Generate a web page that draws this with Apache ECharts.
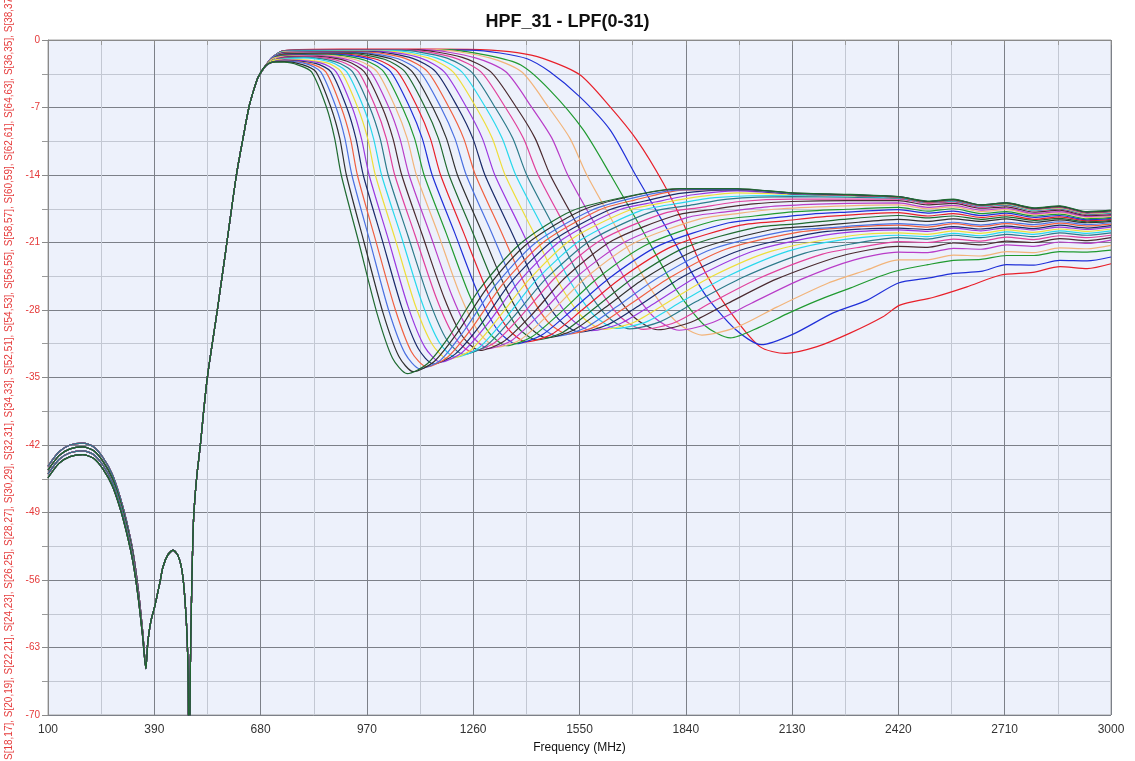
<!DOCTYPE html>
<html><head><meta charset="utf-8">
<script src="https://cdn.jsdelivr.net/npm/echarts@6/dist/echarts.min.js"></script>
<style>html,body{margin:0;padding:0;background:#fff}#c{width:1135px;height:761px}</style>
</head><body><div id="c"></div>
<script>
const TITLE = 'HPF_31 - LPF(0-31)';
const X_NAME = 'Frequency (MHz)';
const Y_NAME = 'S[16,15], S[18,17], S[20,19], S[22,21], S[24,23], S[26,25], S[28,27], S[30,29], S[32,31], S[34,33], S[52,51], S[54,53], S[56,55], S[58,57], S[60,59], S[62,61], S[64,63], S[36,35], S[38,37], S[40,39]';
const X_MIN = 100, X_MAX = 3000, X_STEP = 290;
const Y_MIN = -70, Y_MAX = 0, Y_STEP = 7;

// shared high-pass part (low-frequency band, four groups)
const HPF_A = [[100,-44.2],[130,-42.7],[160,-42.0],[195,-41.8],[225,-42.2],[250,-43.3],[275,-45.0],[296,-47.3],[315,-50.0],[332,-53.1],[346,-56.9],[358,-61.2],[367,-64.9]];
const HPF_B = [[100,-44.6],[130,-43.1],[160,-42.4],[195,-42.2],[225,-42.6],[250,-43.7],[275,-45.4],[296,-47.7],[315,-50.4],[332,-53.4],[346,-57.2],[358,-61.4],[367,-65.0]];
const HPF_C = [[100,-45.0],[130,-43.5],[160,-42.8],[195,-42.6],[225,-43.0],[250,-44.1],[275,-45.8],[296,-48.1],[315,-50.8],[332,-53.8],[346,-57.5],[358,-61.6],[367,-65.1]];
const HPF_D = [[100,-45.4],[130,-43.9],[160,-43.2],[195,-43.0],[225,-43.4],[250,-44.5],[275,-46.2],[296,-48.5],[315,-51.2],[332,-54.2],[346,-57.8],[358,-61.8],[367,-65.2]];
const HPF_EDGE = [[372,-62.6],[380,-60.4],[392,-58.6],[405,-56.3],[414,-54.6],[427,-53.4],[441,-52.9],[455,-53.5],[467,-55.4],[477,-60.0],[482,-65.5],[485,-80],[488,-66],[492,-57],[497,-49.8],[505,-45.6],[515,-42.2],[534,-35.2],[562,-28.0],[588,-21.0],[614,-14.0],[632,-10.2],[648,-7.0],[662,-5.1],[673,-3.9]];

// low-pass states (S00 = highest cut-off ... S31 = lowest cut-off)
const S00 = [[692,-2.75],[712,-1.8],[745,-1.1],[900,-0.95],[1150,-0.95],[1280,-1.0],[1380,-1.3],[1450,-1.9],[1551,-3.6],[1633,-6.9],[1707,-10.4],[1778,-14.8],[1833,-19.0],[1879,-23.1],[1952,-27.7],[2042,-31.8],[2112,-32.5],[2198,-31.8],[2288,-30.4],[2378,-28.7],[2424,-27.5],[2514,-26.7],[2607,-25.6],[2697,-24.4],[2787,-24.1],[2861,-23.5],[2935,-23.7],[3000,-23.2]];
const S01 = [[692,-2.75],[712,-1.8],[745,-1.1],[1000,-1.0],[1250,-1.05],[1333,-1.35],[1407,-1.95],[1469,-3.3],[1551,-5.9],[1633,-9.3],[1703,-14.0],[1795,-20.0],[1891,-26.3],[1975,-30.0],[2046,-31.6],[2133,-30.5],[2242,-28.3],[2334,-27.0],[2420,-25.2],[2500,-24.7],[2570,-24.2],[2645,-24.0],[2715,-23.3],[2790,-23.35],[2860,-22.85],[2935,-22.9],[3000,-22.5]];
const S02 = [[692,-2.75],[712,-1.8],[745,-1.1],[1180,-1.0],[1300,-1.6],[1390,-2.6],[1469,-5.2],[1560,-9.3],[1635,-14.0],[1722,-19.75],[1813,-25.85],[1890,-29.55],[1962,-30.9],[2040,-29.8],[2116,-28.4],[2200,-27.0],[2290,-25.7],[2370,-24.5],[2420,-23.9],[2500,-23.3],[2570,-22.85],[2645,-22.75],[2715,-22.35],[2790,-22.35],[2860,-21.95],[2935,-22.0],[3000,-21.8]];
const S03 = [[692,-2.75],[712,-1.8],[745,-1.1],[1158,-1.0],[1305,-1.85],[1392,-3.3],[1466,-7],[1524,-10.2],[1570,-14],[1653,-19.65],[1741,-25.6],[1815,-29.25],[1884,-30.6],[1978,-29.8],[2088,-27.7],[2229,-25.2],[2330,-23.9],[2420,-22.8],[2500,-22.8],[2570,-22.3],[2645,-22.4],[2715,-21.95],[2790,-22.05],[2860,-21.55],[2935,-21.65],[3000,-21.3]];
const S04 = [[692,-2.75],[712,-1.8],[745,-1.1],[1127,-1.0],[1266,-1.85],[1349,-3.3],[1420,-7],[1475,-10.2],[1518,-14],[1598,-19.5],[1683,-25.3],[1755,-28.8],[1822,-30.1],[1913,-29.3],[2019,-27.3],[2156,-24.8],[2300,-22.8],[2420,-22.0],[2500,-22.05],[2570,-21.6],[2645,-21.7],[2715,-21.25],[2790,-21.4],[2860,-20.95],[2935,-21.1],[3000,-20.75]];
const S05 = [[692,-2.75],[712,-1.8],[745,-1.1],[1098,-1.0],[1230,-1.8],[1308,-3.3],[1378,-7],[1429,-10.2],[1470,-14],[1548,-19.45],[1630,-25.25],[1699,-28.75],[1764,-30.05],[1852,-29.3],[1955,-27.3],[2087,-24.8],[2264,-22.4],[2420,-21.4],[2500,-21.5],[2570,-21.05],[2645,-21.25],[2715,-20.85],[2790,-21.0],[2860,-20.6],[2935,-20.8],[3000,-20.5]];
const S06 = [[692,-2.75],[712,-1.8],[745,-1.13],[1078,-1.03],[1205,-1.8],[1281,-3.3],[1348,-7],[1397,-10.2],[1437,-14],[1513,-19.45],[1594,-25.2],[1661,-28.7],[1724,-30.0],[1810,-29.3],[1911,-27.2],[2040,-24.7],[2213,-22.2],[2330,-21.4],[2420,-20.9],[2500,-21.0],[2570,-20.65],[2645,-20.85],[2715,-20.45],[2790,-20.7],[2860,-20.3],[2935,-20.5],[3000,-20.25]];
const S07 = [[692,-2.75],[712,-1.8],[745,-1.16],[1059,-1.06],[1182,-1.8],[1255,-3.3],[1320,-7],[1368,-10.2],[1406,-14],[1480,-19.4],[1559,-25.15],[1625,-28.65],[1687,-29.95],[1771,-29.2],[1870,-27.1],[1996,-24.6],[2165,-22.1],[2300,-21.1],[2420,-20.5],[2500,-20.65],[2570,-20.25],[2645,-20.5],[2715,-20.15],[2790,-20.4],[2860,-20.0],[2935,-20.25],[3000,-20.0]];
const S08 = [[692,-2.75],[712,-1.8],[745,-1.2],[1040,-1.1],[1159,-1.85],[1229,-3.3],[1294,-7],[1339,-10.2],[1376,-14],[1449,-19.4],[1526,-25.15],[1591,-28.6],[1651,-29.9],[1734,-29.2],[1830,-27.1],[1954,-24.5],[2119,-21.9],[2270,-20.7],[2420,-20.25],[2500,-20.4],[2570,-20.05],[2645,-20.3],[2715,-19.9],[2790,-20.15],[2860,-19.8],[2935,-20.05],[3000,-19.8]];
const S09 = [[692,-2.75],[712,-1.8],[745,-1.24],[1022,-1.14],[1137,-1.85],[1205,-3.3],[1268,-7],[1312,-10.2],[1347,-14],[1418,-19.45],[1494,-25.2],[1557,-28.7],[1616,-30.0],[1697,-29.3],[1791,-27.2],[1912,-24.5],[2074,-21.9],[2290,-20.3],[2420,-20.0],[2500,-20.15],[2570,-19.8],[2645,-20.05],[2715,-19.7],[2790,-19.95],[2860,-19.6],[2935,-19.85],[3000,-19.6]];
const S10 = [[692,-2.75],[712,-1.8],[745,-1.28],[1004,-1.18],[1115,-1.85],[1181,-3.3],[1242,-7],[1285,-10.2],[1319,-14],[1389,-19.5],[1463,-25.3],[1525,-28.85],[1583,-30.15],[1662,-29.4],[1755,-27.3],[1873,-24.5],[2032,-21.8],[2243,-20.1],[2420,-19.7],[2500,-19.85],[2570,-19.5],[2645,-19.8],[2715,-19.45],[2790,-19.7],[2860,-19.4],[2935,-19.65],[3000,-19.4]];
const S11 = [[692,-2.75],[712,-1.8],[745,-1.3],[986,-1.22],[1095,-1.9],[1158,-3.3],[1218,-7],[1259,-10.2],[1292,-14],[1360,-19.55],[1433,-25.4],[1494,-29.0],[1550,-30.3],[1628,-29.5],[1718,-27.4],[1834,-24.5],[1989,-21.8],[2196,-20.0],[2320,-19.6],[2420,-19.5],[2500,-19.65],[2570,-19.35],[2645,-19.6],[2715,-19.3],[2790,-19.55],[2860,-19.2],[2935,-19.5],[3000,-19.25]];
const S12 = [[692,-2.75],[712,-1.8],[745,-1.35],[970,-1.26],[1074,-1.9],[1136,-3.3],[1194,-7],[1234,-10.2],[1266,-14],[1333,-19.6],[1404,-25.55],[1463,-29.2],[1519,-30.5],[1595,-29.7],[1684,-27.5],[1798,-24.6],[1949,-21.7],[2152,-19.9],[2280,-19.45],[2420,-19.2],[2500,-19.4],[2570,-19.05],[2645,-19.35],[2715,-19.05],[2790,-19.35],[2860,-19.0],[2935,-19.3],[3000,-19.1]];
const S13 = [[692,-2.75],[712,-1.8],[745,-1.4],[953,-1.3],[1055,-1.95],[1115,-3.3],[1172,-7],[1210,-10.2],[1241,-14],[1307,-19.7],[1376,-25.7],[1435,-29.35],[1489,-30.7],[1563,-29.9],[1650,-27.7],[1762,-24.7],[1911,-21.7],[2110,-19.85],[2235,-19.45],[2420,-19.05],[2500,-19.2],[2570,-18.9],[2645,-19.2],[2715,-18.9],[2790,-19.15],[2860,-18.85],[2935,-19.15],[3000,-18.95]];
const S14 = [[692,-2.75],[712,-1.95],[745,-1.45],[938,-1.35],[1036,-1.95],[1094,-3.3],[1150,-7],[1187,-10.2],[1217,-14],[1282,-19.75],[1350,-25.85],[1407,-29.55],[1460,-30.9],[1533,-30.1],[1618,-27.8],[1728,-24.7],[1874,-21.7],[2069,-19.7],[2190,-19.3],[2312,-18.9],[2420,-18.6],[2500,-18.8],[2570,-18.55],[2645,-18.8],[2715,-18.55],[2790,-18.9],[2860,-18.65],[2935,-18.95],[3000,-18.8]];
const S15 = [[692,-2.75],[712,-1.95],[745,-1.5],[922,-1.4],[1018,-2.0],[1074,-3.3],[1129,-7],[1165,-10.2],[1194,-14],[1257,-19.8],[1324,-25.95],[1380,-29.75],[1433,-31.1],[1505,-30.3],[1588,-27.9],[1696,-24.7],[1839,-21.5],[2030,-19.45],[2150,-19.05],[2269,-18.6],[2420,-18.2],[2500,-18.45],[2570,-18.25],[2645,-18.6],[2715,-18.35],[2790,-18.7],[2860,-18.5],[2935,-18.85],[3000,-18.7]];
const S16 = [[692,-2.75],[712,-1.95],[745,-1.55],[907,-1.45],[1000,-2.05],[1054,-3.3],[1108,-7],[1143,-10.2],[1171,-14],[1233,-19.9],[1299,-26.1],[1354,-29.9],[1405,-31.3],[1475,-30.5],[1557,-28.0],[1663,-24.7],[1803,-21.4],[1990,-19.2],[2108,-18.75],[2225,-18.3],[2420,-17.9],[2500,-18.25],[2570,-18.0],[2645,-18.4],[2715,-18.15],[2790,-18.6],[2860,-18.35],[2935,-18.75],[3000,-18.6]];
const S17 = [[692,-2.75],[712,-1.95],[745,-1.6],[892,-1.5],[982,-2.05],[1035,-3.3],[1087,-7],[1121,-10.2],[1148,-14],[1209,-19.95],[1273,-26.25],[1327,-30.1],[1378,-31.5],[1447,-30.6],[1527,-28.1],[1631,-24.7],[1768,-21.3],[1952,-19.0],[2067,-18.5],[2182,-18.05],[2280,-17.85],[2420,-17.6],[2500,-17.95],[2570,-17.75],[2645,-18.2],[2715,-17.95],[2790,-18.4],[2860,-18.2],[2935,-18.65],[3000,-18.5]];
const S18 = [[692,-2.75],[712,-1.95],[745,-1.65],[877,-1.55],[965,-2.1],[1016,-3.3],[1067,-7],[1100,-10.2],[1126,-14],[1186,-20.0],[1249,-26.4],[1302,-30.3],[1351,-31.7],[1419,-30.8],[1497,-28.3],[1599,-24.7],[1734,-21.2],[1914,-18.8],[2027,-18.25],[2139,-17.8],[2280,-17.55],[2420,-17.35],[2500,-17.75],[2570,-17.5],[2645,-18.0],[2715,-17.8],[2790,-18.25],[2860,-18.05],[2935,-18.55],[3000,-18.4]];
const S19 = [[692,-2.75],[712,-1.95],[745,-1.7],[863,-1.6],[948,-2.15],[998,-3.3],[1048,-7],[1080,-10.2],[1105,-14],[1164,-20.05],[1225,-26.5],[1277,-30.4],[1326,-31.85],[1392,-31.0],[1470,-28.3],[1569,-24.6],[1702,-21.0],[1879,-18.55],[1989,-17.95],[2100,-17.5],[2280,-17.2],[2420,-17.1],[2500,-17.5],[2570,-17.3],[2645,-17.8],[2715,-17.6],[2790,-18.1],[2860,-17.9],[2935,-18.4],[3000,-18.3]];
const S20 = [[692,-2.75],[712,-2.15],[745,-1.75],[849,-1.65],[932,-2.2],[980,-3.3],[1030,-7],[1060,-10.2],[1085,-14],[1142,-20.1],[1203,-26.6],[1254,-30.55],[1302,-32.0],[1367,-31.1],[1443,-28.4],[1541,-24.6],[1671,-21.0],[1845,-18.4],[1953,-17.8],[2062,-17.3],[2180,-17.05],[2280,-16.95],[2420,-16.9],[2500,-17.35],[2570,-17.15],[2645,-17.65],[2715,-17.45],[2790,-18.0],[2860,-17.8],[2935,-18.3],[3000,-18.2]];
const S21 = [[692,-2.75],[712,-2.15],[745,-1.8],[836,-1.7],[916,-2.2],[963,-3.3],[1012,-7],[1041,-10.2],[1065,-14],[1121,-20.2],[1181,-26.75],[1231,-30.75],[1278,-32.2],[1342,-31.3],[1417,-28.6],[1512,-24.6],[1640,-20.8],[1811,-18.2],[1917,-17.55],[2024,-17.0],[2130,-16.75],[2280,-16.65],[2420,-16.65],[2500,-17.1],[2570,-16.95],[2645,-17.45],[2715,-17.3],[2790,-17.85],[2860,-17.65],[2935,-18.2],[3000,-18.1]];
const S22 = [[692,-2.75],[712,-2.15],[745,-1.85],[823,-1.75],[901,-2.25],[947,-3.3],[994,-7],[1023,-10.2],[1046,-14],[1101,-20.2],[1160,-26.8],[1209,-30.8],[1255,-32.3],[1318,-31.4],[1391,-28.6],[1485,-24.6],[1611,-20.7],[1778,-18.0],[1883,-17.35],[1987,-16.75],[2130,-16.5],[2280,-16.5],[2420,-16.5],[2500,-16.95],[2570,-16.8],[2645,-17.35],[2715,-17.15],[2790,-17.7],[2860,-17.55],[2935,-18.1],[3000,-18.0]];
const S23 = [[692,-2.75],[712,-2.15],[745,-1.9],[810,-1.8],[887,-2.3],[931,-3.3],[978,-7],[1006,-10.2],[1028,-14],[1082,-20.3],[1140,-27.0],[1188,-31.1],[1234,-32.6],[1296,-31.7],[1368,-28.8],[1460,-24.7],[1584,-20.7],[1748,-17.8],[1851,-17.15],[1954,-16.5],[2130,-16.25],[2280,-16.3],[2420,-16.4],[2500,-16.85],[2570,-16.7],[2645,-17.25],[2715,-17.1],[2790,-17.65],[2860,-17.5],[2935,-18.05],[3000,-17.95]];
const S24 = [[692,-2.75],[712,-2.15],[745,-1.95],[798,-1.85],[872,-2.3],[915,-3.3],[961,-7],[988,-10.2],[1010,-14],[1064,-20.4],[1120,-27.2],[1168,-31.4],[1212,-32.9],[1273,-32.0],[1343,-29.1],[1434,-24.8],[1555,-20.7],[1717,-17.7],[1818,-16.95],[1919,-16.35],[2130,-16.1],[2280,-16.2],[2420,-16.35],[2500,-16.85],[2570,-16.65],[2645,-17.25],[2715,-17.05],[2790,-17.65],[2860,-17.45],[2935,-18.0],[3000,-17.9]];
const S25 = [[692,-2.75],[712,-2.15],[745,-2.0],[859,-2.35],[900,-3.3],[945,-7],[972,-10.2],[993,-14],[1046,-20.5],[1101,-27.4],[1148,-31.55],[1192,-33.1],[1252,-32.2],[1321,-29.2],[1411,-24.9],[1530,-20.6],[1689,-17.6],[1790,-16.8],[1887,-16.2],[1980,-15.85],[2130,-16.0],[2280,-16.15],[2420,-16.3],[2500,-16.8],[2570,-16.6],[2645,-17.2],[2715,-17.0],[2790,-17.6],[2860,-17.4],[2935,-18.0],[3000,-17.85]];
const S26 = [[692,-2.75],[712,-2.3],[745,-2.05],[845,-2.4],[886,-3.3],[930,-7],[955,-10.2],[976,-14],[1028,-20.6],[1082,-27.6],[1128,-31.85],[1171,-33.4],[1230,-32.4],[1298,-29.5],[1386,-25.0],[1503,-20.7],[1659,-17.6],[1757,-16.8],[1860,-16.05],[1980,-15.65],[2130,-15.95],[2280,-16.1],[2420,-16.3],[2500,-16.8],[2570,-16.6],[2645,-17.2],[2715,-16.95],[2790,-17.55],[2860,-17.35],[2935,-17.95],[3000,-17.8]];
const S27 = [[692,-2.75],[712,-2.3],[745,-2.1],[832,-2.45],[872,-3.3],[915,-7],[940,-10.2],[960,-14],[1011,-20.65],[1065,-27.7],[1110,-32.0],[1152,-33.6],[1210,-32.6],[1277,-29.7],[1363,-25.1],[1478,-20.8],[1632,-17.6],[1728,-16.7],[1824,-15.9],[1980,-15.55],[2130,-15.95],[2280,-16.1],[2420,-16.3],[2500,-16.8],[2570,-16.6],[2645,-17.15],[2715,-16.95],[2790,-17.5],[2860,-17.3],[2935,-17.9],[3000,-17.75]];
const S28 = [[692,-2.75],[712,-2.3],[745,-2.15],[819,-2.5],[858,-3.3],[900,-7],[925,-10.2],[944,-14],[994,-20.8],[1047,-27.9],[1091,-32.3],[1133,-33.9],[1190,-32.9],[1256,-29.9],[1341,-25.3],[1454,-20.9],[1605,-17.6],[1700,-16.6],[1824,-15.6],[1980,-15.5],[2130,-15.9],[2280,-16.1],[2420,-16.3],[2500,-16.8],[2570,-16.6],[2645,-17.15],[2715,-16.95],[2790,-17.5],[2860,-17.3],[2935,-17.9],[3000,-17.75]];
const S29 = [[692,-2.75],[712,-2.3],[745,-2.2],[807,-2.5],[844,-3.3],[886,-7],[910,-10.2],[929,-14],[978,-20.85],[1030,-28.1],[1074,-32.5],[1115,-34.1],[1171,-33.2],[1236,-30.1],[1319,-25.5],[1431,-21.0],[1580,-17.7],[1700,-16.35],[1824,-15.55],[1980,-15.5],[2130,-15.9],[2280,-16.05],[2420,-16.25],[2500,-16.75],[2570,-16.55],[2645,-17.1],[2715,-16.9],[2790,-17.45],[2860,-17.25],[2935,-17.85],[3000,-17.7]];
const S30 = [[692,-2.75],[712,-2.3],[745,-2.25],[794,-2.55],[831,-3.3],[872,-7],[896,-10.2],[914,-14],[962,-20.95],[1014,-28.3],[1057,-32.8],[1097,-34.4],[1152,-33.4],[1216,-30.4],[1298,-25.7],[1408,-21.1],[1554,-17.7],[1690,-16.2],[1824,-15.45],[1980,-15.45],[2130,-15.85],[2280,-16.05],[2420,-16.25],[2500,-16.75],[2570,-16.55],[2645,-17.1],[2715,-16.9],[2790,-17.45],[2860,-17.25],[2935,-17.85],[3000,-17.7]];
const S31 = [[692,-2.75],[712,-2.3],[745,-2.3],[783,-2.6],[819,-3.3],[860,-7],[882,-10.2],[900,-14],[948,-21.0],[998,-28.4],[1040,-33.0],[1080,-34.6],[1134,-33.6],[1197,-30.6],[1278,-25.8],[1386,-21.2],[1530,-17.7],[1710,-16.0],[1824,-15.4],[1980,-15.4],[2130,-15.85],[2280,-16.0],[2420,-16.25],[2500,-16.7],[2570,-16.5],[2645,-17.1],[2715,-16.9],[2790,-17.4],[2860,-17.2],[2935,-17.8],[3000,-17.65]];

const CURVES = [S00,S01,S02,S03,S04,S05,S06,S07,S08,S09,S10,S11,S12,S13,S14,S15,S16,S17,S18,S19,S20,S21,S22,S23,S24,S25,S26,S27,S28,S29,S30,S31];
const HPF_GROUPS = [HPF_A, HPF_B, HPF_C, HPF_D];

const PALETTE = ['#e8202a','#2030d8','#209a30','#f2b47a','#b83cc8','#4a2a30','#e0409c','#2c7a8a','#28d8ec','#eede3a','#9a38e0','#1a2a6a','#f06040','#4a70e0','#303030','#1f6a30'];
const FONT = 'Arial, "Liberation Sans", sans-serif';

const chart = echarts.init(document.getElementById('c'), null, {renderer: 'canvas'});
const series = CURVES.map((pts, i) => ({
  type: 'line',
  name: 'S' + i,
  data: HPF_GROUPS[Math.floor(i / 8)].concat(HPF_EDGE, pts),
  showSymbol: false,
  symbol: 'none',
  smooth: 0.25,
  clip: true,
  lineStyle: {width: 1.2, color: PALETTE[i % 16]},
  itemStyle: {color: PALETTE[i % 16]},
  emphasis: {disabled: true},
  z: 2
}));

chart.setOption({
  animation: false,
  backgroundColor: '#ffffff',
  title: {
    text: TITLE, left: 'center', top: 8,
    textStyle: {fontSize: 18, fontWeight: 'bold', color: '#111', fontFamily: FONT}
  },
  grid: {left: 48, right: 24, top: 40, bottom: 46, containLabel: false, outerBoundsMode: 'none',
         show: true, backgroundColor: '#edf1fb', borderColor: '#a4a4a4', borderWidth: 1},
  xAxis: {
    type: 'value', min: X_MIN, max: X_MAX, interval: X_STEP,
    name: X_NAME, nameLocation: 'middle', nameGap: 27,
    nameTextStyle: {color: '#111', fontSize: 12, fontFamily: FONT},
    axisLine: {show: true, lineStyle: {color: '#8a8a8a', width: 1}},
    axisTick: {show: true, length: 5, lineStyle: {color: '#8a8a8a'}},
    minorTick: {show: true, splitNumber: 2, length: 5, lineStyle: {color: '#9a9a9a'}},
    axisLabel: {color: '#333', fontSize: 12, margin: 9, fontFamily: FONT, formatter: v => String(v)},
    splitLine: {show: true, lineStyle: {color: '#7c8088', width: 1}},
    minorSplitLine: {show: true, lineStyle: {color: '#c3c8d3', width: 1}}
  },
  yAxis: {
    type: 'value', min: Y_MIN, max: Y_MAX, interval: Y_STEP,
    name: Y_NAME, nameLocation: 'middle', nameGap: 33, nameRotate: 90,
    nameTextStyle: {color: '#e53a3a', fontSize: 10, fontFamily: FONT},
    axisLine: {show: true, lineStyle: {color: '#8a8a8a', width: 1}},
    axisTick: {show: true, length: 6, lineStyle: {color: '#8a8a8a'}},
    minorTick: {show: true, splitNumber: 2, length: 6, lineStyle: {color: '#9a9a9a'}},
    axisLabel: {color: '#e53a3a', fontSize: 10, margin: 8, fontFamily: FONT, formatter: v => String(v)},
    splitLine: {show: true, lineStyle: {color: '#7c8088', width: 1}},
    minorSplitLine: {show: true, lineStyle: {color: '#c3c8d3', width: 1}}
  },
  series: series
});
</script>
</body></html>
